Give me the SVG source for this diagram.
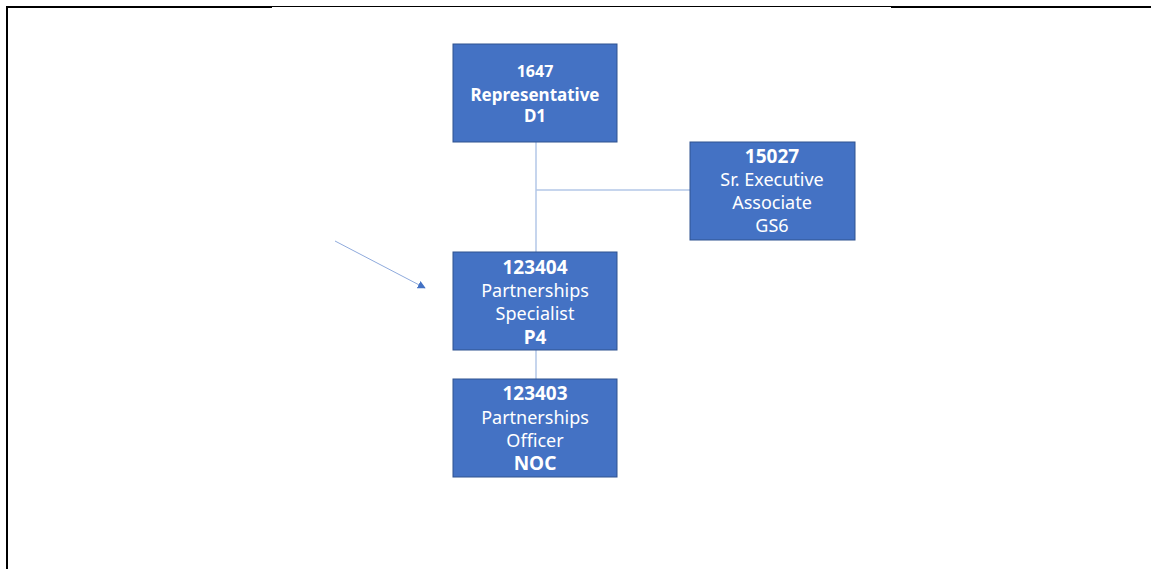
<svg xmlns="http://www.w3.org/2000/svg" width="1151" height="569" viewBox="0 0 1151 569">
<defs>
<style>
.box{fill:#4472C4;stroke:#2F528F;stroke-width:1}
.t{font-family:"Noto Sans","Open Sans",sans-serif;font-size:18px;fill:#FFFFFF;text-anchor:middle}
.b{font-weight:bold;font-size:19px}
.b1{font-weight:bold;font-size:17px}
.conn{stroke:#B4C7E7;stroke-width:1.5;fill:none}
.frame{stroke:#000000;fill:none}
</style>
<marker id="ah" viewBox="0 0 10 10" refX="9" refY="5" markerWidth="8" markerHeight="8" orient="auto" markerUnits="userSpaceOnUse">
<path d="M0,0 L10,5 L0,10 z" fill="#4472C4"/>
</marker>
</defs>
<rect width="1151" height="569" fill="#FFFFFF"/>
<g id="frame">
<line class="frame" x1="6" y1="7" x2="272" y2="7" stroke-width="2"/>
<line class="frame" x1="272" y1="6.5" x2="891" y2="6.5" stroke-width="1"/>
<line class="frame" x1="891" y1="7" x2="1151" y2="7" stroke-width="2"/>
<line class="frame" x1="7" y1="6" x2="7" y2="569" stroke-width="2"/>
</g>
<g id="connectors">
<path class="conn" d="M536,142 V252 M536,190 H690 M536,350 V379"/>
<line x1="335" y1="241" x2="425" y2="288" stroke="#8FAADC" stroke-width="1" marker-end="url(#ah)"/>
</g>
<g id="node-1647">
<rect class="box" x="453" y="44" width="164" height="98"/>
<text class="t b1" x="535" y="77" style="font-size:16px">1647</text>
<text class="t b1" x="535" y="101">Representative</text>
<text class="t b1" x="535" y="122">D1</text>
</g>
<g id="node-15027">
<rect class="box" x="690" y="142" width="165" height="98"/>
<text class="t b" x="772" y="163">15027</text>
<text class="t" x="772" y="186">Sr. Executive</text>
<text class="t" x="772" y="209">Associate</text>
<text class="t" x="772" y="232">GS6</text>
</g>
<g id="node-123404">
<rect class="box" x="453" y="252" width="164" height="98"/>
<text class="t b" x="535" y="274">123404</text>
<text class="t" x="535" y="297">Partnerships</text>
<text class="t" x="535" y="320">Specialist</text>
<text class="t b" x="535" y="344">P4</text>
</g>
<g id="node-123403">
<rect class="box" x="453" y="379" width="164" height="98"/>
<text class="t b" x="535" y="400">123403</text>
<text class="t" x="535" y="424">Partnerships</text>
<text class="t" x="535" y="447">Officer</text>
<text class="t b" x="535" y="470">NOC</text>
</g>
</svg>
